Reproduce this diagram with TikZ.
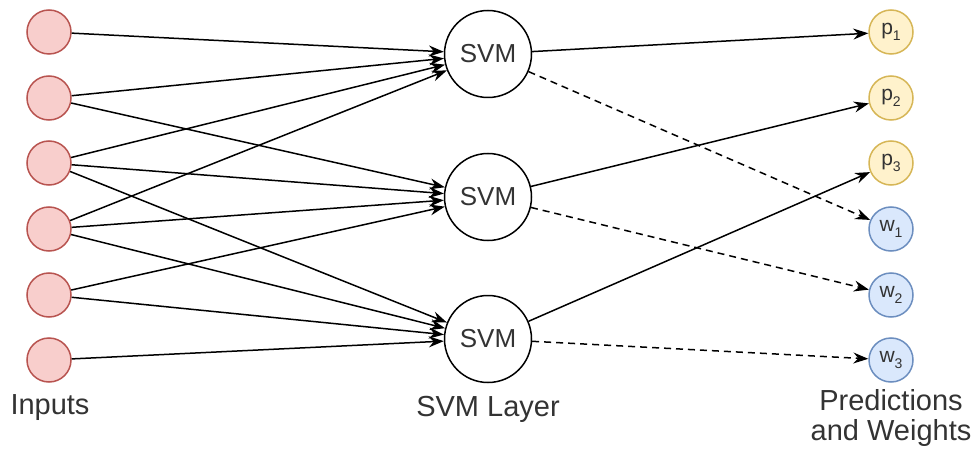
\documentclass[tikz,border=0pt]{standalone}
\usepackage{fontspec}
\setmainfont{Liberation Sans}
\usetikzlibrary{arrows.meta}
\definecolor{inF}{HTML}{F8CECC}
\definecolor{inD}{HTML}{B85450}
\definecolor{pF}{HTML}{FFF2CC}
\definecolor{pD}{HTML}{D6B656}
\definecolor{wF}{HTML}{DAE8FC}
\definecolor{wD}{HTML}{6C8EBF}
\definecolor{txt}{HTML}{333333}
\newcommand{\lowsub}[1]{\raisebox{-0.3em}{\fontsize{14}{14}\selectfont #1}}
\tikzset{
  inode/.style={circle, draw=inD, fill=inF, line width=1.5pt, minimum size=44pt, inner sep=0pt},
  svmnode/.style={circle, draw=black, fill=white, line width=1.5pt, minimum size=87pt, inner sep=0pt, text=txt, font=\fontsize{26}{26}\selectfont},
  pnode/.style={circle, draw=pD, fill=pF, line width=1.5pt, minimum size=44pt, inner sep=0pt, text=txt, font=\fontsize{21}{21}\selectfont},
  wnode/.style={circle, draw=wD, fill=wF, line width=1.5pt, minimum size=44pt, inner sep=0pt, text=txt, font=\fontsize{21}{21}\selectfont},
  lbl/.style={text=txt, font=\fontsize{29}{30}\selectfont, align=center, inner sep=0pt},
  conn/.style={line width=1.5pt, -{Stealth[length=15pt,width=11pt,inset=5pt]}},
  dconn/.style={conn, dash pattern=on 7pt off 5pt}
}
\begin{document}
\begin{tikzpicture}[x=1pt,y=-1pt]
\useasboundingbox (0,0) rectangle (979,449);
% inputs
\node[inode] (i1) at (49,32) {};
\node[inode] (i2) at (49,98) {};
\node[inode] (i3) at (49,163) {};
\node[inode] (i4) at (49,229) {};
\node[inode] (i5) at (49,295) {};
\node[inode] (i6) at (49,360) {};
% svm
\node[svmnode] (s1) at (488,54) {SVM};
\node[svmnode] (s2) at (488,197) {SVM};
\node[svmnode] (s3) at (488,339) {SVM};
% outputs
\node[pnode] (p1) at (891,32) {p\lowsub{1}};
\node[pnode] (p2) at (891,98) {p\lowsub{2}};
\node[pnode] (p3) at (891,163) {p\lowsub{3}};
\node[wnode] (w1) at (891,229) {w\lowsub{1}};
\node[wnode] (w2) at (891,295) {w\lowsub{2}};
\node[wnode] (w3) at (891,360) {w\lowsub{3}};
% labels
\node[lbl] (l1) at (50,408) {Inputs};
\node[lbl] (l2) at (488,409) {SVM Layer};
\node[lbl] (l3) at (891,418) {Predictions\\and Weights};
% input edges
\draw[conn] (i1) -- (s1);
\draw[conn] (i2) -- (s1);
\draw[conn] (i2) -- (s2);
\draw[conn] (i3) -- (s1);
\draw[conn] (i3) -- (s2);
\draw[conn] (i3) -- (s3);
\draw[conn] (i4) -- (s1);
\draw[conn] (i4) -- (s2);
\draw[conn] (i4) -- (s3);
\draw[conn] (i5) -- (s2);
\draw[conn] (i5) -- (s3);
\draw[conn] (i6) -- (s3);
% output edges
\draw[conn] (s1) -- (p1);
\draw[conn] (s2) -- (p2);
\draw[conn] (s3) -- (p3);
\draw[dconn] (s1) -- (w1);
\draw[dconn] (s2) -- (w2);
\draw[dconn] (s3) -- (w3);
\end{tikzpicture}
\end{document}
